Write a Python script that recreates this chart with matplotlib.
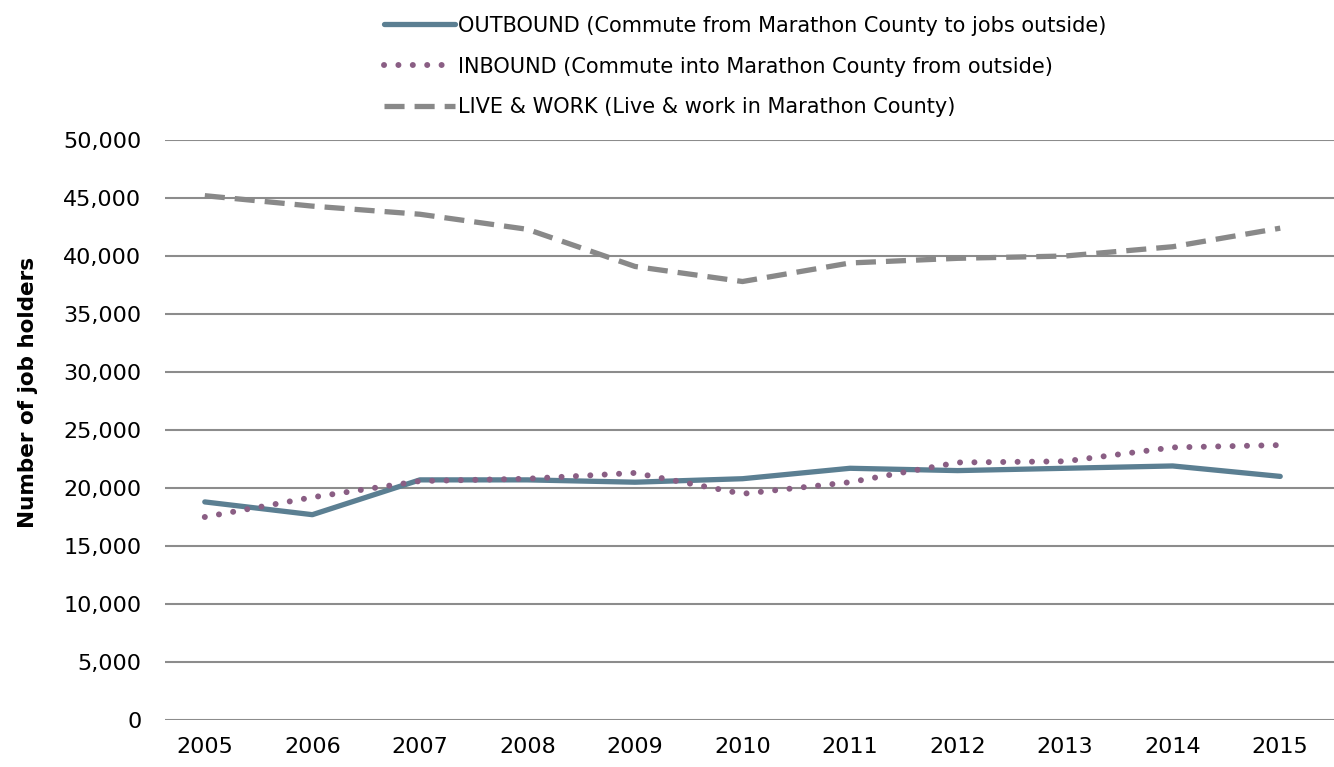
import matplotlib
matplotlib.use("Agg")
import matplotlib.pyplot as plt
from matplotlib.ticker import FuncFormatter

years = ["2005", "2006", "2007", "2008", "2009", "2010", "2011", "2012", "2013", "2014", "2015"]
outbound = [18800, 17700, 20700, 20700, 20500, 20800, 21700, 21500, 21700, 21900, 21000]
inbound = [17500, 19200, 20600, 20800, 21300, 19500, 20500, 22200, 22300, 23500, 23700]
live_work = [45200, 44300, 43600, 42300, 39100, 37800, 39400, 39800, 40000, 40800, 42400]

labels = [
    "OUTBOUND (Commute from Marathon County to jobs outside)",
    "INBOUND (Commute into Marathon County from outside)",
    "LIVE & WORK (Live & work in Marathon County)",
]

fig = plt.figure(figsize=(13.34, 7.67), dpi=100)
ax = fig.add_axes([165 / 1334, 1 - 720 / 767, 1 - 165 / 1334, (720 - 140) / 767])

x = list(range(len(years)))
l1, = ax.plot(x, outbound, color="#5B7F92", lw=3.8, solid_capstyle="round", solid_joinstyle="round", zorder=3)
l2, = ax.plot(x, inbound, color="#8A5E84", lw=4.3, linestyle=(0, (0.01, 2.4)), dash_capstyle="round", zorder=4)
l3, = ax.plot(x, live_work, color="#898989", lw=3.8, linestyle=(0, (3.8, 1.9)), dash_capstyle="butt", zorder=3)

ax.set_ylim(0, 50000)
ax.set_xlim(-0.37, 10.5)
ax.set_yticks(range(0, 50001, 5000))
ax.yaxis.set_major_formatter(FuncFormatter(lambda v, p: f"{int(v):,}"))
ax.set_xticks(x)
ax.set_xticklabels(years)
ax.tick_params(axis="both", length=0, labelsize=16, colors="black")
ax.tick_params(axis="y", pad=17)
ax.tick_params(axis="x", pad=12)
ax.grid(axis="y", color="#8c8c8c", lw=1.5)
ax.set_axisbelow(True)
for s in ax.spines.values():
    s.set_visible(False)

fig.text(28 / 1334, 1 - 392 / 767, "Number of job holders", rotation=90, fontsize=15.5,
         fontweight="bold", ha="center", va="center")

leg = fig.legend([l1, l2, l3], labels, loc="upper left", bbox_to_anchor=(365 / 1334, 1.0 + 3 / 767),
                 frameon=False, handlelength=3.4, handletextpad=0.15, labelspacing=1.0,
                 prop={"family": ["DejaVu Sans"], "size": 15})

fig.savefig("out.png", dpi=100)
